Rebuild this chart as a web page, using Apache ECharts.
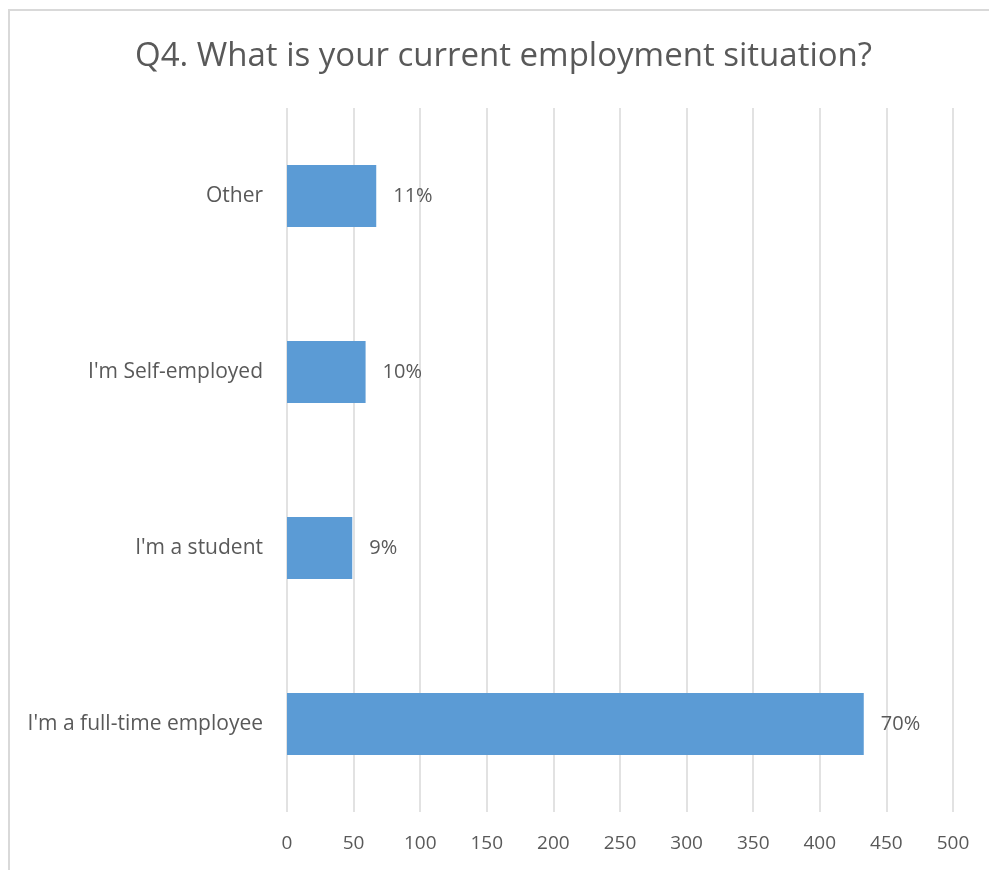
<!DOCTYPE html>
<html>
<head>
<meta charset="utf-8">
<script src="https://cdn.jsdelivr.net/npm/echarts@6/dist/echarts.min.js"></script>
<style>
  html, body { margin: 0; padding: 0; background: #fff; }
  #chart { width: 989px; height: 870px; }
</style>
</head>
<body>
<div id="chart"></div>
<script>
// Survey responses, listed bottom to top as drawn on the category axis
const categories = ["I'm a full-time employee", "I'm a student", "I'm Self-employed", "Other"];
const counts = [433, 49, 59, 67];
const shareLabels = ["70%", "9%", "10%", "11%"];
const xTicks = [0, 50, 100, 150, 200, 250, 300, 350, 400, 450, 500];

const FONT = "'Open Sans', sans-serif";
const TEXT = '#595959';

const chart = echarts.init(document.getElementById('chart'), null, { renderer: 'canvas' });
chart.setOption({
  animation: false,
  backgroundColor: '#ffffff',
  title: {
    text: 'Q4. What is your current employment situation?',
    left: 130,
    top: 35,
    textStyle: { fontFamily: FONT, fontSize: 33, fontWeight: 'normal', color: TEXT }
  },
  graphic: [{
    type: 'rect',
    shape: { x: 9, y: 10, width: 1000, height: 900 },
    style: { fill: 'none', stroke: '#d9d9d9', lineWidth: 2 },
    silent: true
  }],
  grid: { left: 287, right: 36, top: 108, bottom: 58, containLabel: false },
  xAxis: {
    type: 'value',
    min: xTicks[0],
    max: xTicks[xTicks.length - 1],
    interval: xTicks[1] - xTicks[0],
    axisLine: { show: false },
    axisTick: { show: false },
    splitLine: { show: true, lineStyle: { color: '#d9d9d9', width: 1.5 } },
    axisLabel: { color: TEXT, fontFamily: FONT, fontSize: 19, margin: 22 }
  },
  yAxis: {
    type: 'category',
    data: categories,
    axisLine: { show: false },
    axisTick: { show: false },
    axisLabel: { color: TEXT, fontFamily: FONT, fontSize: 21, margin: 24 }
  },
  series: [{
    type: 'bar',
    data: counts,
    barWidth: 62,
    itemStyle: { color: '#5b9bd5' },
    label: {
      show: true,
      position: 'right',
      distance: 17,
      color: TEXT,
      fontFamily: FONT,
      fontSize: 20,
      formatter: p => shareLabels[p.dataIndex]
    }
  }]
});
</script>
</body>
</html>
